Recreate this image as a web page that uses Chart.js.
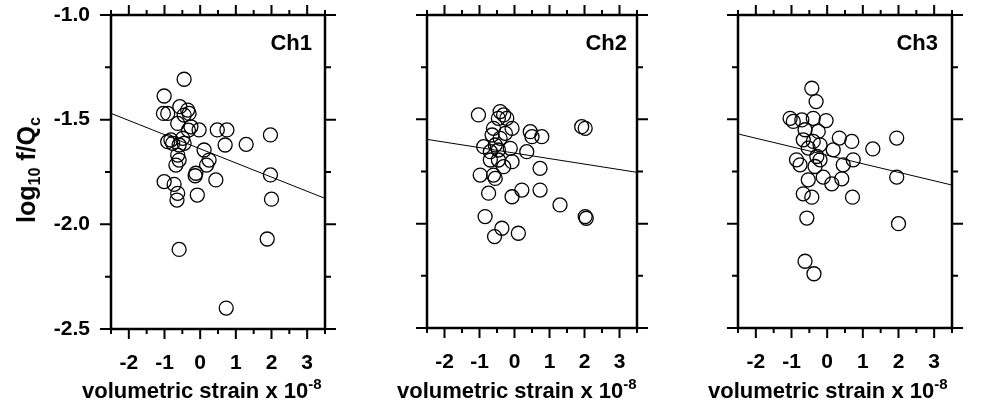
<!DOCTYPE html>
<html><head><meta charset="utf-8">
<script src="https://cdn.jsdelivr.net/npm/chart.js@4/dist/chart.umd.min.js"></script>
<style>
html,body{margin:0;padding:0;background:#fff;}
body{width:988px;height:409px;position:relative;overflow:hidden;font-family:"Liberation Sans",Arial,sans-serif;font-weight:bold;color:#000;}
canvas{position:absolute;top:0;}
.xt{position:absolute;top:380px;font-size:22px;line-height:22px;white-space:nowrap;}
.sup{font-size:15px;position:relative;top:-9px;}
.ch{position:absolute;top:32px;font-size:22px;line-height:22px;white-space:nowrap;text-align:right;width:60px;}
#yt{position:absolute;left:28px;top:170px;transform:translate(-50%,-50%) rotate(-90deg);font-size:25px;line-height:25px;white-space:nowrap;}
#yt sub{font-size:16px;vertical-align:baseline;position:relative;top:5px;}
</style>
</head><body>
<canvas id="c1" width="345" height="409" style="left:0px"></canvas>
<canvas id="c2" width="315" height="409" style="left:345px"></canvas>
<canvas id="c3" width="328" height="409" style="left:660px"></canvas>
<div id="yt">log<sub>10</sub> f/Q<sub>c</sub></div>
<div class="xt" style="left:82px">volumetric strain x 10<span class="sup">-8</span></div>
<div class="xt" style="left:397px">volumetric strain x 10<span class="sup">-8</span></div>
<div class="xt" style="left:708px">volumetric strain x 10<span class="sup">-8</span></div>
<div class="ch" style="left:252px">Ch1</div>
<div class="ch" style="left:567px">Ch2</div>
<div class="ch" style="left:878px">Ch3</div>
<script>
// ---- data ----
const panelNames = ["Ch1", "Ch2", "Ch3"];
const xTicks = [-2, -1, 0, 1, 2, 3];
const yTicks = [-2.5, -2.0, -1.5, -1.0];
const fitX = [-2.5, 3.5];

const ch1X = [-0.45,-1.01,-1.03,-0.91,-0.57,-0.35,-0.31,-0.45,-0.63,-0.26,-0.03,0.48,0.75,0.70,1.29,1.97,-0.82,-0.77,-0.49,-0.45,-0.59,0.11,-0.63,-0.59,-0.68,0.25,0.18,-0.12,-0.14,0.44,-1.01,-0.73,-0.63,-0.08,-0.65,1.97,2.0,-0.59,1.88,0.73,-0.91,-0.33];
const ch1Y = [-1.307,-1.387,-1.470,-1.470,-1.438,-1.454,-1.470,-1.478,-1.518,-1.534,-1.549,-1.549,-1.549,-1.621,-1.618,-1.573,-1.597,-1.613,-1.589,-1.613,-1.621,-1.645,-1.669,-1.693,-1.717,-1.693,-1.717,-1.756,-1.768,-1.788,-1.796,-1.809,-1.852,-1.860,-1.884,-1.764,-1.88,-2.12,-2.07,-2.40,-1.605,-1.55];
const ch1Fit = [-1.47, -1.876];

const ch2X = [-1.03,-0.41,-0.31,-0.46,-0.22,-0.60,-0.07,-0.26,-0.64,0.45,0.50,0.78,1.92,2.02,-0.88,-0.55,-0.69,-0.46,-0.12,0.35,-0.69,-0.46,-0.07,0.73,-0.98,-0.60,-0.55,-0.74,-0.07,0.21,0.73,1.30,2.02,2.05,-0.84,-0.36,-0.57,0.11,-0.41,-0.31];
const ch2Y = [-1.479,-1.463,-1.479,-1.495,-1.495,-1.543,-1.543,-1.567,-1.575,-1.559,-1.583,-1.583,-1.535,-1.543,-1.631,-1.623,-1.655,-1.647,-1.639,-1.655,-1.695,-1.695,-1.703,-1.735,-1.767,-1.767,-1.783,-1.854,-1.871,-1.839,-1.839,-1.910,-1.966,-1.974,-1.966,-2.022,-2.062,-2.046,-1.591,-1.727];
const ch2Fit = [-1.596, -1.754];

const ch3X = [-0.43,-0.31,-1.04,-0.95,-0.71,-0.39,-0.03,-0.62,-0.25,0.34,0.69,1.28,1.95,-0.67,-0.39,-0.20,-0.53,0.17,-0.86,-0.76,-0.34,-0.20,0.45,0.73,-0.11,0.13,0.41,-0.53,-0.67,-0.43,0.71,1.95,-0.57,2.0,-0.62,-0.37,-0.29];
const ch3Y = [-1.351,-1.415,-1.495,-1.51,-1.503,-1.495,-1.506,-1.55,-1.558,-1.59,-1.606,-1.642,-1.59,-1.598,-1.606,-1.622,-1.638,-1.646,-1.694,-1.718,-1.726,-1.694,-1.718,-1.694,-1.777,-1.809,-1.785,-1.79,-1.857,-1.873,-1.873,-1.777,-1.973,-2.0,-2.18,-2.24,-1.678];
const ch3Fit = [-1.57, -1.815];

// ---- drawing ----
const tickFont = {family: '"Liberation Sans", Arial, sans-serif', size: 21, weight: 'bold'};

const framePlugin = {
  id: 'frame',
  afterDatasetsDraw(chart) {
    const {ctx, chartArea: a, scales: {x, y}} = chart;
    ctx.save();
    ctx.strokeStyle = '#000';
    ctx.lineWidth = 2;
    ctx.beginPath();
    for (let v = x.min; v <= x.max + 1e-9; v += 0.5) {
      const px = x.getPixelForValue(v);
      const len = Math.abs(v - Math.round(v)) < 1e-6 ? 10 : 5;
      ctx.moveTo(px, a.top); ctx.lineTo(px, a.top - len);
      ctx.moveTo(px, a.bottom); ctx.lineTo(px, a.bottom + len);
    }
    for (let v = y.min; v <= y.max + 1e-9; v += 0.25) {
      const py = y.getPixelForValue(v);
      const len = Math.abs(v * 2 - Math.round(v * 2)) < 1e-6 ? 11 : 6;
      ctx.moveTo(a.left, py); ctx.lineTo(a.left - len, py);
      ctx.moveTo(a.right, py); ctx.lineTo(a.right + len, py);
    }
    ctx.stroke();
    ctx.lineWidth = 2.5;
    ctx.strokeRect(a.left, a.top, a.right - a.left, a.bottom - a.top);
    ctx.restore();
  }
};

function makePanel(id, xs, ys, fit, showY, pad, bottomH) {
  const pts = xs.map((v, i) => ({x: v, y: ys[i]}));
  const line = fitX.map((v, i) => ({x: v, y: fit[i]}));
  new Chart(document.getElementById(id), {
    type: 'scatter',
    data: {
      datasets: [
        {data: pts, pointStyle: 'circle', pointRadius: 7, pointBorderWidth: 1.3,
         pointBorderColor: '#000', pointBackgroundColor: 'rgba(0,0,0,0)', showLine: false},
        {type: 'line', data: line, borderColor: '#000', borderWidth: 1, pointRadius: 0, fill: false}
      ]
    },
    options: {
      responsive: false, animation: false,
      layout: {padding: pad},
      plugins: {legend: {display: false}, tooltip: {enabled: false}},
      scales: {
        x: {
          type: 'linear', min: -2.5, max: 3.5,
          afterBuildTicks: s => { s.ticks = xTicks.map(v => ({value: v})); },
          afterFit: s => { s.height = bottomH; s.paddingLeft = 0; s.paddingRight = 0; },
          ticks: {font: tickFont, color: '#000', padding: 22, maxRotation: 0, autoSkip: false,
                  callback: v => String(v)},
          grid: {display: false, drawTicks: false},
          border: {display: false}
        },
        y: {
          type: 'linear', min: -2.5, max: -1.0, display: showY,
          afterBuildTicks: s => { s.ticks = yTicks.map(v => ({value: v})); },
          afterFit: s => { s.width = showY ? 111 : 0; s.paddingTop = 0; s.paddingBottom = 0; },
          ticks: {font: tickFont, color: '#000', padding: 21, autoSkip: false,
                  callback: v => Number(v).toFixed(1)},
          grid: {display: false, drawTicks: false},
          border: {display: false}
        }
      }
    },
    plugins: [framePlugin]
  });
}

makePanel('c1', ch1X, ch1Y, ch1Fit, true, {top: 15, right: 20, left: 0, bottom: 0}, 80);
makePanel('c2', ch2X, ch2Y, ch2Fit, false, {top: 15, right: 23, left: 82, bottom: 0}, 81);
makePanel('c3', ch3X, ch3Y, ch3Fit, false, {top: 15, right: 36, left: 78, bottom: 0}, 81);
</script>
</body></html>
